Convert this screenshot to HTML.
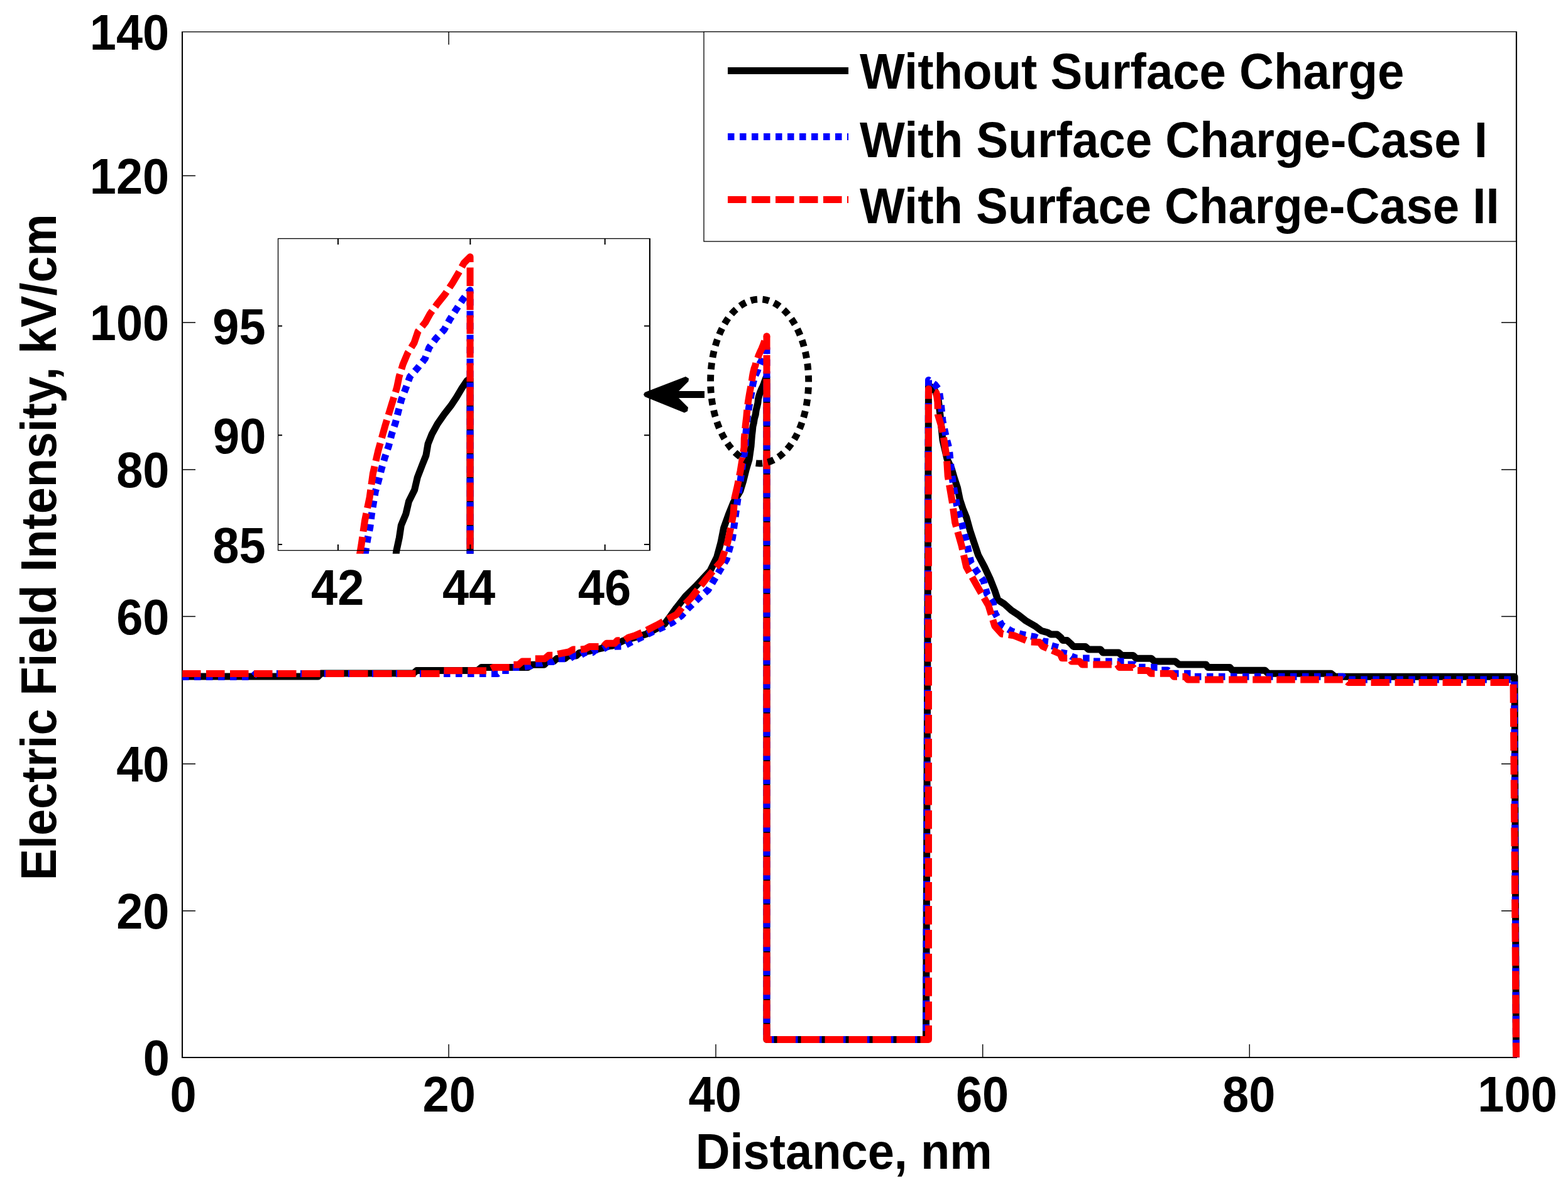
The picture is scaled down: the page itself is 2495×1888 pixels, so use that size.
<!DOCTYPE html>
<html><head><meta charset="utf-8"><title>Electric Field Intensity vs Distance</title>
<style>html,body{margin:0;padding:0;background:#fff;overflow:hidden}svg{display:block}
text{font-family:"Liberation Sans",Arial,sans-serif;font-weight:bold;font-size:100px;fill:#000}</style></head>
<body><svg width="2495" height="1888" viewBox="0 0 2495 1888">
<rect x="0" y="0" width="2495" height="1888" fill="#fff"/>
<g fill="#000">
<rect x="289" y="50" width="2" height="1633"/>
<rect x="2412" y="50" width="2" height="1633"/>
<rect x="289" y="50" width="2125" height="1.3"/>
<rect x="289" y="1681" width="2125" height="2"/>
</g>
<path d="M291,1448.8H311M2389,1448.8H2412M291,1215H311M2389,1215H2412M291,980.5H311M2389,980.5H2412M291,747H311M2389,747H2412M291,513H311M2389,513H2412M291,279.5H311M2389,279.5H2412M714,1681V1661M714,51V71M1139,1681V1661M1139,51V71M1563.7,1681V1661M1563.7,51V71M1988.2,1681V1661M1988.2,51V71" stroke="#000" stroke-width="1.4" fill="none"/>
<defs><clipPath id="mc"><rect x="283" y="44" width="2140" height="1638"/></clipPath><clipPath id="ic"><rect x="442.5" y="379.5" width="591" height="501.2"/></clipPath></defs>
<g clip-path="url(#mc)" fill="none" stroke-width="11" stroke-linejoin="round">
<polyline points="290.0,1076.0 506.0,1076.0 511.0,1071.0 658.0,1071.0 663.0,1066.5 760.0,1066.5 766.0,1061.6 840.0,1061.6 846.0,1057.3 866.0,1057.3 871.0,1052.0 881.0,1052.0 886.0,1047.5 899.0,1047.5 904.0,1043.0 917.0,1043.0 922.0,1038.3 940.0,1035.0 958.0,1031.0 962.0,1028.5 975.0,1027.0 992.0,1019.0 1010.0,1014.0 1028.0,1008.7 1044.0,1000.2 1057.5,992.4 1066.0,981.0 1076.2,966.8 1091.0,948.1 1106.6,932.9 1129.9,908.1 1140.7,886.3 1147.0,863.0 1151.6,839.8 1159.4,818.0 1167.0,799.4 1178.0,780.7 1182.7,765.2 1187.3,746.6 1192.0,731.0 1195.0,710.0 1196.0,697.3 1196.4,692.2 1197.3,685.0 1197.9,678.4 1199.4,672.2 1200.4,665.6 1202.2,659.4 1203.1,652.7 1204.7,646.1 1205.9,641.0 1206.5,634.8 1207.7,629.7 1209.6,624.1 1211.7,618.9 1213.9,614.3 1215.6,609.9 1217.4,604.8 1218.9,601.1 1220.0,599.8 1220.0,602.0 1220.0,1653.4 1473.5,1653.4 1477.5,612.0 1488.0,622.0 1493.0,635.0 1496.0,660.0 1500.0,700.0 1507.0,730.0 1514.0,745.0 1518.8,761.3 1523.5,775.6 1527.4,794.7 1532.1,809.0 1537.9,823.4 1543.9,845.1 1550.2,863.9 1556.5,882.7 1566.5,901.6 1575.3,920.4 1582.8,939.2 1587.8,954.3 1597.9,960.5 1609.2,970.6 1620.5,978.1 1631.7,986.9 1646.8,995.7 1656.8,1003.2 1667.0,1006.0 1672.0,1009.0 1682.0,1009.0 1688.0,1014.0 1691.0,1018.6 1698.0,1018.6 1704.0,1024.0 1708.0,1028.4 1727.0,1028.4 1732.0,1032.9 1751.0,1032.9 1755.0,1038.0 1780.0,1038.0 1785.0,1042.4 1803.0,1042.4 1808.0,1047.2 1832.0,1047.2 1837.0,1052.0 1870.0,1052.0 1876.0,1057.0 1919.0,1057.0 1922.0,1061.6 1957.0,1061.6 1961.0,1066.3 2013.0,1066.3 2018.0,1071.3 2118.0,1071.3 2124.0,1076.3 2410.0,1076.3 2412.5,1682.0" stroke="#000" stroke-linecap="butt"/>
<polyline points="290.0,1076.4 402.0,1076.4 407.0,1071.4 792.0,1071.4 798.0,1066.5 811.0,1066.5 815.0,1061.6 827.0,1061.6 845.0,1059.0 850.0,1055.0 862.0,1055.0 870.0,1052.6 879.0,1052.6 888.0,1047.7 906.0,1047.7 914.0,1042.6 923.0,1042.6 931.0,1037.7 943.0,1037.7 948.0,1033.4 958.0,1033.4 966.0,1028.5 992.0,1028.0 1004.0,1021.5 1022.0,1013.0 1038.0,1005.0 1054.0,998.0 1070.0,990.0 1084.6,979.0 1095.8,966.8 1111.0,952.0 1127.0,938.0 1143.9,909.6 1156.3,889.4 1165.6,855.3 1168.7,832.0 1171.8,808.7 1178.0,765.2 1182.7,731.0 1186.0,712.0 1186.2,697.3 1186.6,691.7 1187.2,685.5 1188.0,679.4 1188.4,673.0 1189.0,666.6 1189.6,660.4 1190.7,654.3 1191.6,648.1 1192.7,642.0 1193.9,635.9 1194.9,629.7 1196.1,623.5 1197.0,617.4 1198.0,610.9 1199.4,605.1 1200.7,598.8 1203.2,594.3 1205.5,589.3 1206.9,583.2 1209.1,578.2 1211.7,573.7 1213.5,568.2 1215.6,562.7 1217.7,557.4 1220.0,552.5" stroke="#0000ff" stroke-dasharray="10.5 8.5" stroke-linecap="butt"/>
<polyline points="1220.0,552.5 1220.0,1653.4 1473.5,1653.4 1477.5,604.5 1488.0,612.0 1494.0,620.0 1497.0,640.0 1500.0,670.0 1506.3,699.0 1510.2,713.5 1514.0,751.7 1516.8,770.8 1522.6,804.3 1528.6,826.0 1537.6,861.4 1545.2,895.3 1555.2,910.3 1565.2,924.1 1570.3,944.2 1580.3,959.3 1582.8,974.3 1594.1,994.4 1610.4,1004.4 1628.0,1009.5 1646.8,1013.0 1654.0,1016.0 1660.0,1020.0 1668.0,1021.0 1673.0,1027.0 1684.0,1030.0 1688.0,1038.0 1700.0,1040.0 1705.0,1044.0 1713.0,1047.0 1734.0,1047.0 1739.0,1052.0 1790.0,1052.0 1794.0,1057.0 1805.0,1057.0 1810.0,1061.2 1843.0,1061.4 1848.0,1066.0 1858.0,1066.0 1863.0,1071.2 1895.0,1071.2 1900.0,1076.3 2137.0,1076.3 2143.0,1081.1 2409.5,1081.1 2412.5,1682.0" stroke="#0000ff" stroke-dasharray="10.5 8.5" stroke-dashoffset="0.03" stroke-linecap="butt"/>
<polyline points="290.0,1071.4 700.0,1071.4 706.0,1066.7 775.0,1066.7 785.0,1061.6 811.0,1061.6 815.0,1057.3 825.0,1057.3 831.0,1052.0 845.0,1052.0 850.0,1047.7 867.0,1047.7 873.0,1042.3 880.0,1042.3 887.0,1040.5 905.0,1037.0 912.0,1033.0 923.0,1033.0 931.0,1032.3 938.0,1028.5 960.0,1028.5 965.0,1023.3 978.0,1023.3 982.0,1018.8 993.0,1018.8 1000.0,1014.0 1010.0,1011.0 1024.0,1005.0 1044.3,994.7 1060.0,986.0 1076.2,977.6 1088.0,963.0 1100.2,950.5 1123.0,921.5 1147.6,893.0 1157.8,863.0 1163.3,836.6 1167.0,818.0 1168.7,793.2 1173.4,773.0 1178.0,749.7 1181.0,731.0 1184.0,712.0 1184.3,697.3 1184.7,693.2 1185.2,688.6 1186.3,675.8 1187.8,663.5 1188.9,650.7 1190.6,638.4 1192.7,625.6 1194.9,613.8 1196.5,604.8 1197.3,598.8 1198.5,592.3 1200.0,586.3 1202.1,580.7 1203.3,574.7 1205.7,569.7 1207.2,565.1 1209.6,559.6 1212.0,554.6 1214.4,548.6 1216.2,543.5 1218.0,538.0 1220.0,534.7" stroke="#ff0000" stroke-dasharray="29.5 8.5" stroke-dashoffset="0.00" stroke-linecap="butt"/>
<polyline points="1220.0,534.7 1220.0,1653.4" stroke="#ff0000" stroke-dasharray="29.5 8.5" stroke-dashoffset="8.00" stroke-linecap="butt"/>
<polyline points="1220.0,1653.4 1477.5,1653.4" stroke="#ff0000" stroke-dasharray="29.5 8.5" stroke-dashoffset="21.50" stroke-linecap="butt"/>
<polyline points="1477.5,1653.4 1477.5,618.5" stroke="#ff0000" stroke-dasharray="29.5 8.5" stroke-dashoffset="7.00" stroke-linecap="butt"/>
<polyline points="1477.5,618.5 1490.0,625.0 1492.0,640.0 1492.5,660.0 1497.0,675.0 1500.6,690.0 1506.3,727.0 1508.2,757.0 1515.0,797.0 1519.7,831.0 1530.1,867.7 1537.6,901.6 1555.2,932.9 1572.8,963.0 1582.8,995.7 1594.1,1008.2 1612.9,1010.7 1638.0,1020.8 1654.0,1021.5 1659.0,1028.0 1687.0,1040.0 1690.0,1046.8 1702.0,1046.8 1705.0,1052.0 1718.0,1052.0 1722.0,1057.0 1778.0,1057.0 1781.0,1061.4 1803.0,1061.4 1806.0,1066.5 1827.0,1066.5 1831.0,1071.2 1864.0,1071.2 1868.0,1076.2 1886.0,1076.2 1890.0,1081.0 2140.0,1081.0 2145.0,1085.5 2408.0,1085.5" stroke="#ff0000" stroke-dasharray="29.5 8.5" stroke-dashoffset="27.77" stroke-linecap="butt"/>
<polyline points="2408.0,1085.5 2412.5,1681.7" stroke="#ff0000" stroke-dasharray="29.5 8.5" stroke-dashoffset="34.92" stroke-linecap="butt"/>
<circle cx="1220.0" cy="534.696" r="5.5" fill="#ff0000" stroke="none"/>
<circle cx="1220" cy="1653.4" r="5.5" fill="#ff0000" stroke="none"/>
<circle cx="1477.5" cy="1653.4" r="5.5" fill="#ff0000" stroke="none"/>
<circle cx="1477.5" cy="618.5" r="5.5" fill="#ff0000" stroke="none"/>
</g>
<text transform="translate(227.64,1710.30) scale(0.7580,0.7950)">0</text>
<text transform="translate(185.19,1477.10) scale(0.7580,0.7950)">20</text>
<text transform="translate(185.19,1243.30) scale(0.7580,0.7950)">40</text>
<text transform="translate(185.19,1008.80) scale(0.7580,0.7950)">60</text>
<text transform="translate(185.19,775.30) scale(0.7580,0.7950)">80</text>
<text transform="translate(142.75,541.30) scale(0.7580,0.7950)">100</text>
<text transform="translate(142.75,307.80) scale(0.7580,0.7950)">120</text>
<text transform="translate(142.75,78.80) scale(0.7580,0.7950)">140</text>
<text transform="translate(270.56,1768.20) scale(0.7580,0.7950)">0</text>
<text transform="translate(672.61,1768.20) scale(0.7580,0.7950)">20</text>
<text transform="translate(1095.59,1768.20) scale(0.7580,0.7950)">40</text>
<text transform="translate(1520.93,1768.20) scale(0.7580,0.7950)">60</text>
<text transform="translate(1945.01,1768.20) scale(0.7580,0.7950)">80</text>
<text transform="translate(2351.35,1768.20) scale(0.7580,0.7950)">100</text>
<text transform="translate(1106.69,1859.10) scale(0.7586,0.7950)">Distance, nm</text>
<text transform="translate(89.00,1400.28) rotate(-90) scale(0.7549,0.7950)">Electric Field Intensity, kV/cm</text>
<rect x="1120" y="50.5" width="1292.5" height="333.5" fill="#fff" stroke="#000" stroke-width="1.3"/>
<g stroke-width="11.2" fill="none">
<path d="M1158,112.5H1350" stroke="#000"/>
<path d="M1158,217.5H1350" stroke="#0000ff" stroke-dasharray="10.5 8.5"/>
<path d="M1158,317.5H1350" stroke="#ff0000" stroke-dasharray="29.5 8.5"/>
</g>
<text transform="translate(1367.90,140.80) scale(0.7615,0.7950)">Without Surface Charge</text>
<text transform="translate(1367.90,249.70) scale(0.7624,0.7950)">With Surface Charge-Case I</text>
<text transform="translate(1367.90,354.90) scale(0.7605,0.7950)">With Surface Charge-Case II</text>
<rect x="442.5" y="379.5" width="591" height="496" fill="#fff"/>
<g clip-path="url(#ic)" fill="none" stroke-width="11" stroke-linejoin="round">
<polyline points="629.0,892.0 630.7,876.7 635.3,855.4 638.3,835.6 645.9,817.3 650.5,797.5 659.6,779.2 664.2,759.4 671.8,739.6 677.9,724.4 681.0,706.1 687.0,690.9 696.2,674.2 706.8,658.9 717.5,645.2 726.3,632.0 735.2,617.0 742.7,606.0 748.0,602.0 748.0,892.0" stroke="#000"/>
<polyline points="580.0,892.0 582.0,875.2 585.0,856.9 588.8,838.6 591.1,819.6 594.2,800.6 597.2,782.3 602.5,764.0 607.1,745.7 612.4,727.5 618.5,709.2 623.1,690.9 629.2,672.6 633.8,654.4 638.9,635.0 645.6,617.8 652.3,599.1 664.3,585.7 676.2,570.7 682.9,552.8 694.1,537.9 706.8,524.4 715.8,508.0 726.3,491.6 736.7,475.9 748.0,461.5 748.0,892.0" stroke="#0000ff" stroke-dasharray="10.5 8.5" stroke-dashoffset="8.7"/>
<polyline points="570.5,892.0 572.8,879.7 575.1,866.0 580.5,828.0 588.1,791.4 593.4,753.3 601.8,716.8 612.4,678.7 623.1,643.7 631.4,617.0 635.1,599.1 641.1,579.7 648.6,561.8 659.0,545.3 665.0,527.4 677.0,512.5 684.4,499.0 696.4,482.6 708.3,467.7 720.3,449.7 729.2,434.8 738.2,418.4 748.0,408.5 748.0,892.0" stroke="#ff0000" stroke-dasharray="29.5 8.5" stroke-dashoffset="28.9"/>
</g>
<rect x="442.5" y="379.5" width="591" height="496" fill="none" stroke="#000" stroke-width="1.3"/>
<rect x="1033" y="379" width="2" height="497" fill="#000"/>
<path d="M443,865.9H449M1033,865.9H1025M443,692.2H449M1033,692.2H1025M443,518.5H449M1033,518.5H1025M537.9,875V866M537.9,380V389M748.3,875V866M748.3,380V389M962.6,875V866M962.6,380V389" stroke="#000" stroke-width="2" fill="none"/>
<text transform="translate(338.24,894.60) scale(0.7580,0.7950)">85</text>
<text transform="translate(338.99,720.90) scale(0.7580,0.7950)">90</text>
<text transform="translate(338.24,547.20) scale(0.7580,0.7950)">95</text>
<text transform="translate(495.09,961.90) scale(0.7580,0.7950)">42</text>
<text transform="translate(703.97,961.90) scale(0.7580,0.7950)">44</text>
<text transform="translate(919.79,961.90) scale(0.7580,0.7950)">46</text>
<ellipse cx="1208.6" cy="606.5" rx="78" ry="130.6" fill="none" stroke="#000" stroke-width="10.8" pathLength="665" stroke-dasharray="10.5 8.5" stroke-dashoffset="9.4"/>
<path d="M1121,622H1080L1095.5,606.5L1096,602L1091,599L1026,624L1024,627.5L1026,631L1089,656.5L1094,654L1095,648L1080,633H1121Z" fill="#000"/>
</svg></body></html>
